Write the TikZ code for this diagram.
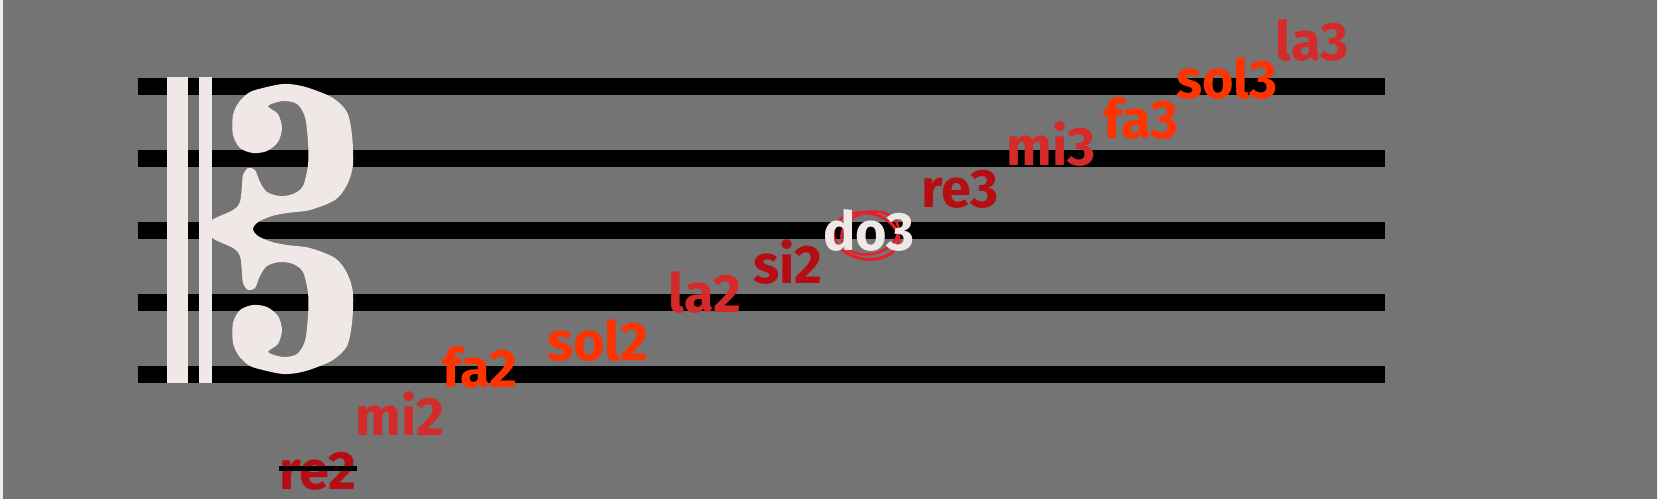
\documentclass[tikz,border=0pt]{standalone}
\usepackage{fontspec}
\setmainfont{Fira Sans}
\definecolor{bggray}{RGB}{116,116,116}
\definecolor{edgewhite}{RGB}{238,238,242}
\definecolor{clefwhite}{RGB}{240,232,230}
\definecolor{notedark}{RGB}{181,13,18}
\definecolor{notecrimson}{RGB}{212,42,42}
\definecolor{noteorange}{RGB}{255,51,0}
\definecolor{circlered}{RGB}{232,30,42}

\begin{document}
\begin{tikzpicture}[x=1pt,y=-1pt]

%
% Styles
%
\tikzstyle{staffline} = [line width=17pt,black]
\tikzstyle{notename} = [anchor=base,inner sep=0pt,font=\fontsize{54}{56}\selectfont\bfseries]

\useasboundingbox (0,0) rectangle (1658,499);
\fill[edgewhite] (0,0) rectangle (1658,499);
\fill[bggray] (3,0) rectangle (1657,499);

% staff
\foreach \i in {0,...,4}
  \draw[staffline] (138,{86+72.15*\i}) -- (1385,{86+72.15*\i});

% clef
\fill[clefwhite] (167,77) rectangle (188,383);
\fill[clefwhite] (199,77) rectangle (212,383);
\fill[clefwhite] plot[smooth cycle,tension=0.5] coordinates {
  (209,222) (233,210) (240,202) (242,185) (243,175) (248,168) (255,170)
  (260,182) (267,192) (280,196) (293,194) (303,186) (308,165) (308,142)
  (305,117) (297,104) (283,101) (268,106)
  (278,114) (282,128) (278,142) (267,151) (253,153) (240,148) (233,135)
  (233,115) (239,102) (250,92)
  (267,87) (283,84) (297,85) (312,89) (333,98) (347,112) (352,135)
  (353,165) (347,185) (335,200) (310,210) (287,213) (272,216) (258,222)
  (253,229)
  (258,236) (272,242) (287,245) (310,248) (335,258) (347,273) (353,293)
  (352,323) (347,346) (333,360) (312,369) (297,373) (283,374) (267,371)
  (250,366) (239,356) (233,343) (233,323) (240,310) (253,305) (267,307)
  (278,316) (282,330) (278,344) (268,352)
  (283,357) (297,354) (305,341) (308,316) (308,293) (303,272) (293,264)
  (280,262) (267,266) (260,276) (255,288) (248,290) (243,283) (242,273)
  (240,256) (233,248) (209,236)};

% circle round do3
\draw[circlered,line width=3pt,rotate around={-10:(866,236)}] (866,236) ellipse (33 and 23);
\draw[circlered,line width=2.5pt,rotate around={14:(870,233)}] (870,233) ellipse (29 and 21);

% note names
\node[notename,text=notedark]    (re2)  at ( 318,489) {re2};
\node[notename,text=notecrimson] (mi2)  at ( 400,435) {mi2};
\node[notename,text=noteorange]  (fa2)  at ( 480,387) {fa2};
\node[notename,text=noteorange]  (sol2) at ( 598,360) {sol2};
\node[notename,text=notecrimson] (la2)  at ( 705,312) {la2};
\node[notename,text=notedark]    (si2)  at ( 788,283) {si2};
\node[notename,text=clefwhite]   (do3)  at ( 869,250) {do3};
\node[notename,text=notedark]    (re3)  at ( 960,207) {re3};
\node[notename,text=notecrimson] (mi3)  at (1051,165) {mi3};
\node[notename,text=noteorange]  (fa3)  at (1141,138) {fa3};
\node[notename,text=noteorange]  (sol3) at (1227, 98) {sol3};
\node[notename,text=notecrimson] (la3)  at (1312, 60) {la3};

% re2 struck out
\draw[black,line width=5pt] (re2.west |- 0,468) -- (re2.east |- 0,468);

\end{tikzpicture}
\end{document}
